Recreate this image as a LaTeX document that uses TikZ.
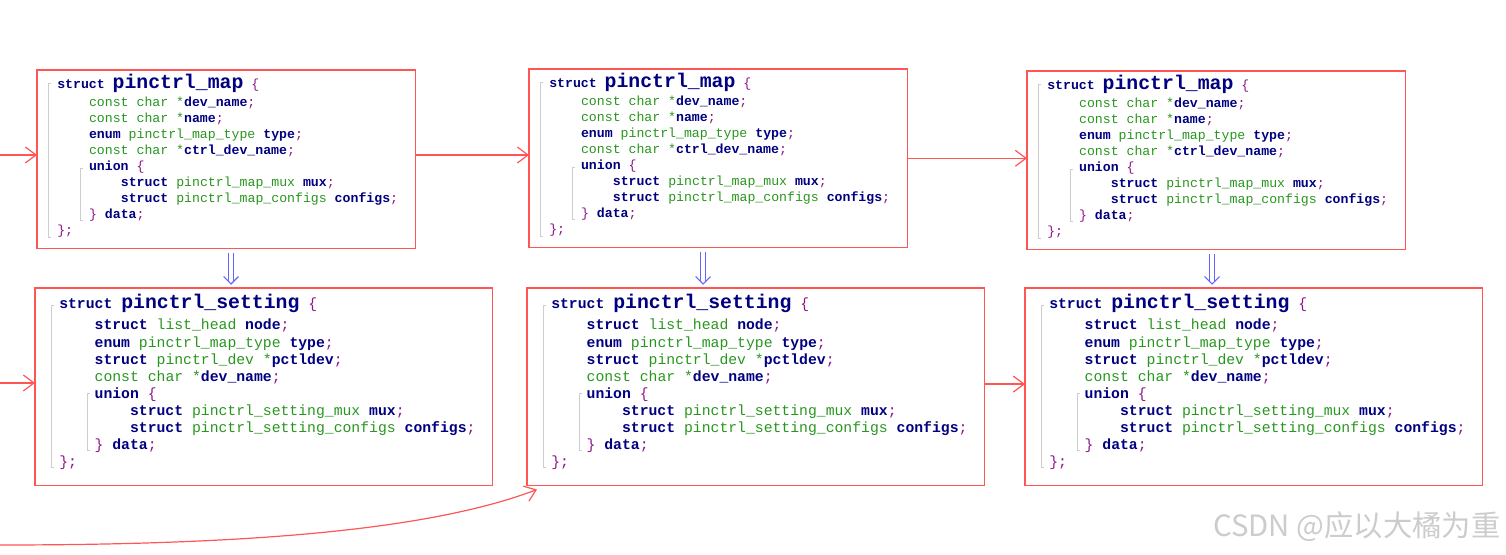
\documentclass[tikz,border=0pt]{standalone}
\usepackage{fontspec}
\usetikzlibrary{arrows.meta}
\newfontfamily\codefont{Liberation Mono}
\newfontfamily\cjkfont{Noto Sans CJK SC}
\definecolor{framered}{RGB}{255,85,85}
\definecolor{kwnavy}{RGB}{0,0,128}
\definecolor{tygreen}{RGB}{40,150,30}
\definecolor{pupurple}{RGB}{140,20,140}
\definecolor{guidegray}{RGB}{205,205,205}
\definecolor{dblblue}{RGB}{100,100,255}
\newcommand\kw[1]{\textcolor{kwnavy}{\bfseries #1}}
\newcommand\ty[1]{\textcolor{tygreen}{#1}}
\newcommand\fd[1]{\textcolor{kwnavy}{\bfseries #1}}
\newcommand\pu[1]{\textcolor{pupurple}{#1}}
\newcommand\titlefont{\bfseries\fontsize{14.85pt}{16pt}\selectfont}
\tikzset{
  mapframe/.style={anchor=north west, inner sep=0,
    minimum width=283.5pt, minimum height=133.5pt},
  setframe/.style={anchor=north west, inner sep=0,
    minimum width=342.75pt, minimum height=147.75pt},
  frame/.style={draw=framered, line width=1pt},
  code/.style={anchor=base west, inner sep=0},
  mapfont/.style={font=\codefont\fontsize{9.9pt}{12pt}\selectfont},
  setfont/.style={font=\codefont\fontsize{11.07pt}{13pt}\selectfont},
  guide/.style={draw=guidegray, line width=0.6pt},
  redarrow/.style={draw=framered, line width=0.9pt, -{Straight Barb[length=8pt,width=12pt]}},
  dblline/.style={draw=dblblue, line width=0.8pt},
  dbltip/.style={draw=dblblue, line width=0.8pt, line join=miter}
}
% 折叠线: 框名, 外层 x/上/下, 内层 x/上/下
\newcommand\guides[7]{%
  \draw[guide] ([shift={(#2+3,#3)}]#1.north west) -- ([shift={(#2,#3)}]#1.north west)
    -- ([shift={(#2,#4)}]#1.north west) -- ([shift={(#2+3,#4)}]#1.north west);
  \draw[guide] ([shift={(#5+3,#6)}]#1.north west) -- ([shift={(#5,#6)}]#1.north west)
    -- ([shift={(#5,#7)}]#1.north west) -- ([shift={(#5+3,#7)}]#1.north west);
}
% 双线箭头: 起点, 终点 (竖直向下)
\newcommand\dblarrow[2]{%
  \draw[dblline] ([xshift=-1.9pt]#1) -- ([xshift=-1.9pt,yshift=1.2pt]#2);
  \draw[dblline] ([xshift=1.9pt]#1) -- ([xshift=1.9pt,yshift=1.2pt]#2);
  \draw[dbltip] ([xshift=-5.6pt,yshift=5.6pt]#2) -- (#2) -- ([xshift=5.6pt,yshift=5.6pt]#2);
}
% struct pinctrl_map 的代码
\newcommand\mapcode[1]{%
  \node[code, mapfont] (#1-title) at ([shift={(20,19)}]#1.north west)
    {\kw{struct} \kw{\titlefont pinctrl\_map} \pu{\{}};
  \foreach \lv/\ln [count=\i] in {
      1/{\ty{const char *}\fd{dev\_name}\pu{;}},
      1/{\ty{const char *}\fd{name}\pu{;}},
      1/{\kw{enum} \ty{pinctrl\_map\_type} \fd{type}\pu{;}},
      1/{\ty{const char *}\fd{ctrl\_dev\_name}\pu{;}},
      1/{\kw{union} \pu{\{}},
      2/{\kw{struct} \ty{pinctrl\_map\_mux} \fd{mux}\pu{;}},
      2/{\kw{struct} \ty{pinctrl\_map\_configs} \fd{configs}\pu{;}},
      1/{\pu{\}} \fd{data}\pu{;}},
      0/{\pu{\};}}}
    \node[code, mapfont] (#1-\i) at ([shift={(20+\lv*31.8, 21+\i*16)}]#1.north west) {\ln};
}
% struct pinctrl_setting 的代码
\newcommand\setcode[1]{%
  \node[code, setfont] (#1-title) at ([shift={(24,21)}]#1.north west)
    {\kw{struct} \kw{\titlefont pinctrl\_setting} \pu{\{}};
  \foreach \lv/\ln [count=\i] in {
      1/{\kw{struct} \ty{list\_head} \fd{node}\pu{;}},
      1/{\kw{enum} \ty{pinctrl\_map\_type} \fd{type}\pu{;}},
      1/{\kw{struct} \ty{pinctrl\_dev *}\fd{pctldev}\pu{;}},
      1/{\ty{const char *}\fd{dev\_name}\pu{;}},
      1/{\kw{union} \pu{\{}},
      2/{\kw{struct} \ty{pinctrl\_setting\_mux} \fd{mux}\pu{;}},
      2/{\kw{struct} \ty{pinctrl\_setting\_configs} \fd{configs}\pu{;}},
      1/{\pu{\}} \fd{data}\pu{;}},
      0/{\pu{\};}}}
    \node[code, setfont] (#1-\i) at ([shift={(24+\lv*35.4, 24.9+\i*17.08)}]#1.north west) {\ln};
}
\begin{document}
\begin{tikzpicture}[x=0.75pt, y=-0.75pt]
  \useasboundingbox (0,0) rectangle (1506,555);

  % 1. 框
  \node[mapframe] (M1) at (37,70) {};
  \node[mapframe] (M2) at (529,69) {};
  \node[mapframe] (M3) at (1027,71) {};
  \node[setframe] (S1) at (35,288) {};
  \node[setframe] (S2) at (527,288) {};
  \node[setframe] (S3) at (1025,288) {};
  \foreach \b in {M1,M2,M3,S1,S2,S3}
    \draw[frame] (\b.north west) rectangle (\b.south east);

  % 2. 链表箭头
  \coordinate (mapin) at (0,155);
  \coordinate (setin) at (0,383);
  \coordinate (curvein) at (0,545);
  \draw[redarrow] (mapin) -- (mapin -| M1.west);
  \draw[redarrow] (M1.east |- mapin) -- (M2.west |- mapin);
  \draw[redarrow] (M2.east) -- (M2.east -| M3.west);
  \draw[redarrow] (setin) -- (setin -| S1.west);
  \draw[redarrow] ([yshift=2pt]S2.east) -- ([yshift=2pt]S2.east -| S3.west);
  \draw[redarrow] (curvein) .. controls (250,545) and (430,530) .. ([shift={(10,4)}]S2.south west);

  % 3. map -> setting
  \foreach \m/\s/\x in {M1/S1/231, M2/S2/703, M3/S3/1212} {
    \coordinate (\m-d) at (\x,0);
    \coordinate (\m-top) at ([yshift=-3pt]\m.south -| \m-d);
    \coordinate (\m-bot) at ([yshift=3pt]\s.north -| \m-d);
    \dblarrow{\m-top}{\m-bot}
  }

  % 4. 折叠线
  \foreach \b in {M1,M2,M3} {\guides{\b}{11}{13}{167}{43}{98}{150}}
  \foreach \b in {S1,S2,S3} {\guides{\b}{16}{17}{179}{52}{105}{162}}

  % 5. 代码文字
  \mapcode{M1} \mapcode{M2} \mapcode{M3}
  \setcode{S1} \setcode{S2} \setcode{S3}

  % 6. 水印
  \node[anchor=base west, inner sep=0, text=gray!40, font=\cjkfont\fontsize{22pt}{24pt}\selectfont]
    (csdn) at (1213,537) {CSDN @应以大橘为重};
\end{tikzpicture}
\end{document}
